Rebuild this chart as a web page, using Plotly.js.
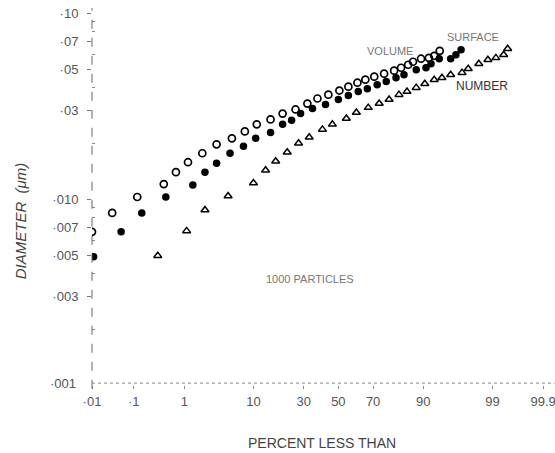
<!DOCTYPE html>
<html>
<head>
<meta charset="utf-8">
<script src="https://cdn.plot.ly/plotly-3.0.1.min.js"></script>
<style>html,body{margin:0;padding:0;background:#fff;}#chart{width:555px;height:453px;}</style>
</head>
<body>
<div id="chart"></div>
<script>
// ---- data (percent less than, diameter in µm) ----
const volumePct  = [0.01,0.032,0.12,0.42,0.71,1.16,2.0,3.3,5.4,7.9,10.9,15.3,20,25.9,32,37.6,44,50.6,56,61.3,65.8,70.6,75.5,80,82.8,85.4,87,89.4,91.4,92.6,93.7];
const volumeDiam = [0.00666,0.00842,0.01025,0.01203,0.01394,0.01577,0.01762,0.01968,0.0212,0.0231,0.0252,0.0268,0.0288,0.0303,0.0326,0.0347,0.0364,0.0383,0.0402,0.0422,0.0438,0.0455,0.0472,0.0490,0.0508,0.0527,0.0547,0.0568,0.0574,0.0589,0.0626];

const surfacePct  = [0.011,0.052,0.15,0.46,1.4,2.2,3.3,5.1,7.6,10.6,15.3,20,24,28.4,34.8,42.3,50,56,61.8,66.9,72.1,76.5,80.8,83.9,88,90.7,91.9,93.6,95.5,96.2,96.8];
const surfaceDiam = [0.0049,0.00666,0.00842,0.01025,0.01188,0.01394,0.01558,0.01762,0.0192,0.0212,0.0228,0.0252,0.0265,0.0288,0.0307,0.0322,0.0343,0.0360,0.0378,0.0392,0.0412,0.0428,0.0449,0.0466,0.0496,0.0508,0.0534,0.0568,0.0568,0.0596,0.0634];

const numberPct  = [0.32,1.1,2.2,4.8,10,13.6,17.2,22,27.4,33,40.5,46.4,54.8,60.7,67.4,73.1,77.8,82,85,88,90.4,92.6,94.1,95.5,96.9,97.5,98.3,98.8,99.13,99.37,99.47];
const numberDiam = [0.00496,0.00674,0.00873,0.01038,0.01218,0.01429,0.01597,0.01784,0.01993,0.02146,0.02367,0.0252,0.0271,0.0292,0.0310,0.0326,0.0343,0.0364,0.0378,0.0397,0.0417,0.0438,0.0449,0.0466,0.0478,0.0502,0.0534,0.0561,0.0574,0.0596,0.0642];

const xTickPct   = [0.01,0.1,1,10,30,50,70,90,99,99.9];
const xTickText  = ['·01','·1','1','10','30','50','70','90','99','99.9'];
const yTickVals  = [0.003,0.005,0.007,0.010,0.03,0.05,0.07,0.10];
const yTickText  = ['·003','·005','·007','·010','·03','·05','·07','·10'];
const yMinorVals = [0.002,0.004,0.006,0.008,0.009,0.02,0.04,0.06,0.08,0.09];

// ---- probability-scale transform (inverse normal CDF, Acklam) ----
function probit(p){
  const a=[-3.969683028665376e+01,2.209460984245205e+02,-2.759285104469687e+02,1.383577518672690e+02,-3.066479806614716e+01,2.506628277459239e+00];
  const b=[-5.447609879822406e+01,1.615858368580409e+02,-1.556989798598866e+02,6.680131188771972e+01,-1.328068155288572e+01];
  const c=[-7.784894002430293e-03,-3.223964580411365e-01,-2.400758277161838e+00,-2.549671010115603e+00,4.374664141464968e+00,2.938163982698783e+00];
  const d=[7.784695709041462e-03,3.224671290700398e-01,2.445134137142996e+00,3.754408661907416e+00];
  const pl=0.02425, ph=1-pl; let q,r;
  if(p<pl){q=Math.sqrt(-2*Math.log(p));return (((((c[0]*q+c[1])*q+c[2])*q+c[3])*q+c[4])*q+c[5])/((((d[0]*q+d[1])*q+d[2])*q+d[3])*q+1);}
  if(p>ph){q=Math.sqrt(-2*Math.log(1-p));return -(((((c[0]*q+c[1])*q+c[2])*q+c[3])*q+c[4])*q+c[5])/((((d[0]*q+d[1])*q+d[2])*q+d[3])*q+1);}
  q=p-0.5;r=q*q;return (((((a[0]*r+a[1])*r+a[2])*r+a[3])*r+a[4])*r+a[5])*q/(((((b[0]*r+b[1])*r+b[2])*r+b[3])*r+b[4])*r+1);
}
const z = arr => arr.map(v => probit(v/100));

const FONT = 'Liberation Sans, Arial, sans-serif';
const INK = '#000';
const TXT = '#555';

const traces = [
  {x:z(volumePct), y:volumeDiam, mode:'markers', name:'VOLUME',
   marker:{symbol:'circle-open', size:7, color:INK, line:{width:1.7, color:INK}}},
  {x:z(surfacePct), y:surfaceDiam, mode:'markers', name:'SURFACE',
   marker:{symbol:'circle', size:7.5, color:INK}},
  {x:z(numberPct), y:numberDiam, mode:'markers', name:'NUMBER',
   marker:{symbol:'triangle-up-open', size:7, color:INK, line:{width:1.5, color:INK}}}
];

function ann(text, x, y, size, color, extra){
  return Object.assign({text:text, xref:'paper', yref:'paper', x:x, y:y, xanchor:'center', yanchor:'middle',
    showarrow:false, font:{family:FONT, size:size, color:color}}, extra||{});
}

const layout = {
  width:555, height:453,
  margin:{l:92, r:0, t:8, b:68},
  paper_bgcolor:'#fff', plot_bgcolor:'#fff',
  showlegend:false,
  font:{family:FONT, color:TXT, size:13},
  xaxis:{
    range:[probit(0.0001), 3.27],
    tickmode:'array', tickvals:z(xTickPct), ticktext:xTickText,
    showgrid:false, zeroline:false, showline:false,
    ticks:'outside', ticklen:3, tickcolor:'#888', tickwidth:1,
    ticklabelstandoff:1, ticklabeloverflow:'allow',
    tickfont:{family:FONT, size:13, color:TXT}
  },
  yaxis:{
    type:'log', range:[-3, -0.973],
    tickmode:'array', tickvals:yTickVals, ticktext:yTickText,
    showgrid:false, zeroline:false, showline:false,
    ticks:'outside', ticklen:4, tickcolor:'#777', tickwidth:1,
    ticklabelstandoff:6,
    tickfont:{family:FONT, size:13, color:TXT},
    minor:{tickmode:'array', tickvals:yMinorVals, ticks:'inside', ticklen:3, tickcolor:'#888', showgrid:false}
  },
  shapes:[
    {type:'line', xref:'paper', yref:'paper', x0:0, x1:0, y0:-0.01, y1:1, line:{color:'#666', width:1, dash:'dash'}},
    {type:'line', xref:'paper', yref:'paper', x0:0, x1:1, y0:0.005, y1:0.005, line:{color:'#888', width:1, dash:'dot'}}
  ],
  annotations:[
    ann('·001', -0.03, 0.005, 13, TXT, {xanchor:'right'}),
    ann('VOLUME', 0.644, 0.886, 11, '#777'),
    ann('SURFACE', 0.823, 0.923, 11, '#777'),
    ann('NUMBER', 0.842, 0.793, 12, '#333'),
    ann('1000 PARTICLES', 0.471, 0.28, 11, '#777'),
    ann('PERCENT LESS THAN', 0.497, -0.154, 14, '#444'),
    ann('<i>DIAMETER  (μm)</i>', -0.155, 0.435, 15, '#444', {textangle:-90})
  ]
};

Plotly.newPlot('chart', traces, layout, {displayModeBar:false, staticPlot:true});
</script>
</body>
</html>
